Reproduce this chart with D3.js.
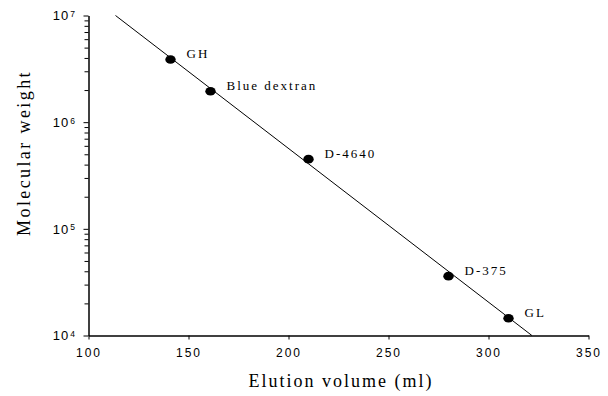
<!DOCTYPE html>
<html>
<head>
<meta charset="utf-8">
<script src="https://cdn.jsdelivr.net/npm/d3@7"></script>
<style>
  body { margin: 0; background: #fff; }
  .axis path, .axis line { stroke: #000; }
  .axis text { font-family: "Liberation Sans", Arial, sans-serif; fill: #000; }
  .lbl { font-family: "Liberation Serif", "Times New Roman", serif; fill: #000; }
</style>
</head>
<body>
<svg id="chart" width="608" height="396"></svg>
<script>
// standards
var names = ["GH", "Blue dextran", "D-4640", "D-375", "GL"];
var volumes = [141, 161, 210, 280, 310];
var weights = [3.87e6, 1.95e6, 4.5e5, 3.6e4, 1.45e4];

// fitted calibration line (end points)
var fitVolume = [113.5, 321.7];
var fitWeight = [1e7, 1e4];

var xTicks = [100, 150, 200, 250, 300, 350];
var yMajor = [1e4, 1e5, 1e6, 1e7];
var yExp = ["4", "5", "6", "7"];

var svg = d3.select("#chart");

var x = d3.scaleLinear().domain([100, 350]).range([88.5, 588.5]);
var y = d3.scaleLog().domain([1e4, 1e7]).range([335.5, 15.5]);

// minor log ticks
var yMinor = [];
yMajor.slice(0, 3).forEach(function(p) {
    for (var k = 2; k < 10; k++) yMinor.push(p * k);
});

svg.append("g")
    .attr("class", "axis")
    .attr("transform", "translate(88.5,0)")
    .call(d3.axisLeft(y).tickValues(yMinor).tickSize(4).tickFormat(""))
    .select(".domain").remove();

var ya = svg.append("g")
    .attr("class", "axis")
    .attr("transform", "translate(88.5,0)")
    .call(d3.axisLeft(y).tickValues(yMajor).tickSize(5).tickSizeOuter(0).tickFormat(""));
ya.select(".domain").attr("stroke-width", 1.5);

ya.selectAll(".tick text")
    .attr("x", -13.5)
    .attr("dy", "0.34em")
    .style("font-size", "13px")
    .each(function(d, i) {
        var t = d3.select(this);
        t.append("tspan").text("10").style("letter-spacing", "1px");
        t.append("tspan").text(yExp[i]).attr("dx", 1).attr("dy", "-0.4em").style("font-size", "8.5px");
    });

var xa = svg.append("g")
    .attr("class", "axis")
    .attr("transform", "translate(0,335.5)")
    .call(d3.axisBottom(x).tickValues(xTicks).tickSize(4).tickSizeOuter(0));
xa.select(".domain").attr("stroke-width", 1.3);
xa.selectAll(".tick text")
    .attr("y", 13)
    .style("font-size", "12px")
    .style("letter-spacing", "2px");

// calibration line
svg.append("line")
    .attr("x1", x(fitVolume[0])).attr("y1", y(fitWeight[0]))
    .attr("x2", x(fitVolume[1])).attr("y2", y(fitWeight[1]))
    .attr("stroke", "#000").attr("stroke-width", 1);

// points
svg.selectAll("ellipse.pt")
    .data(volumes)
    .enter().append("ellipse")
    .attr("class", "pt")
    .attr("cx", function(d) { return x(d); })
    .attr("cy", function(d, i) { return y(weights[i]); })
    .attr("rx", 5.2).attr("ry", 4.3)
    .attr("fill", "#000");

svg.selectAll("text.name")
    .data(names)
    .enter().append("text")
    .attr("class", "lbl name")
    .attr("x", function(d, i) { return x(volumes[i]) + 16; })
    .attr("y", function(d, i) { return y(weights[i]) - 1; })
    .style("font-size", "13px")
    .style("letter-spacing", "2px")
    .text(function(d) { return d; });

// axis titles
svg.append("text")
    .attr("class", "lbl")
    .attr("x", 341).attr("y", 387)
    .attr("text-anchor", "middle")
    .style("font-size", "18px")
    .style("letter-spacing", "2px")
    .text("Elution volume (ml)");

svg.append("text")
    .attr("class", "lbl")
    .attr("transform", "translate(30,153) rotate(-90)")
    .attr("text-anchor", "middle")
    .style("font-size", "18px")
    .style("letter-spacing", "2.4px")
    .text("Molecular weight");
</script>
</body>
</html>
